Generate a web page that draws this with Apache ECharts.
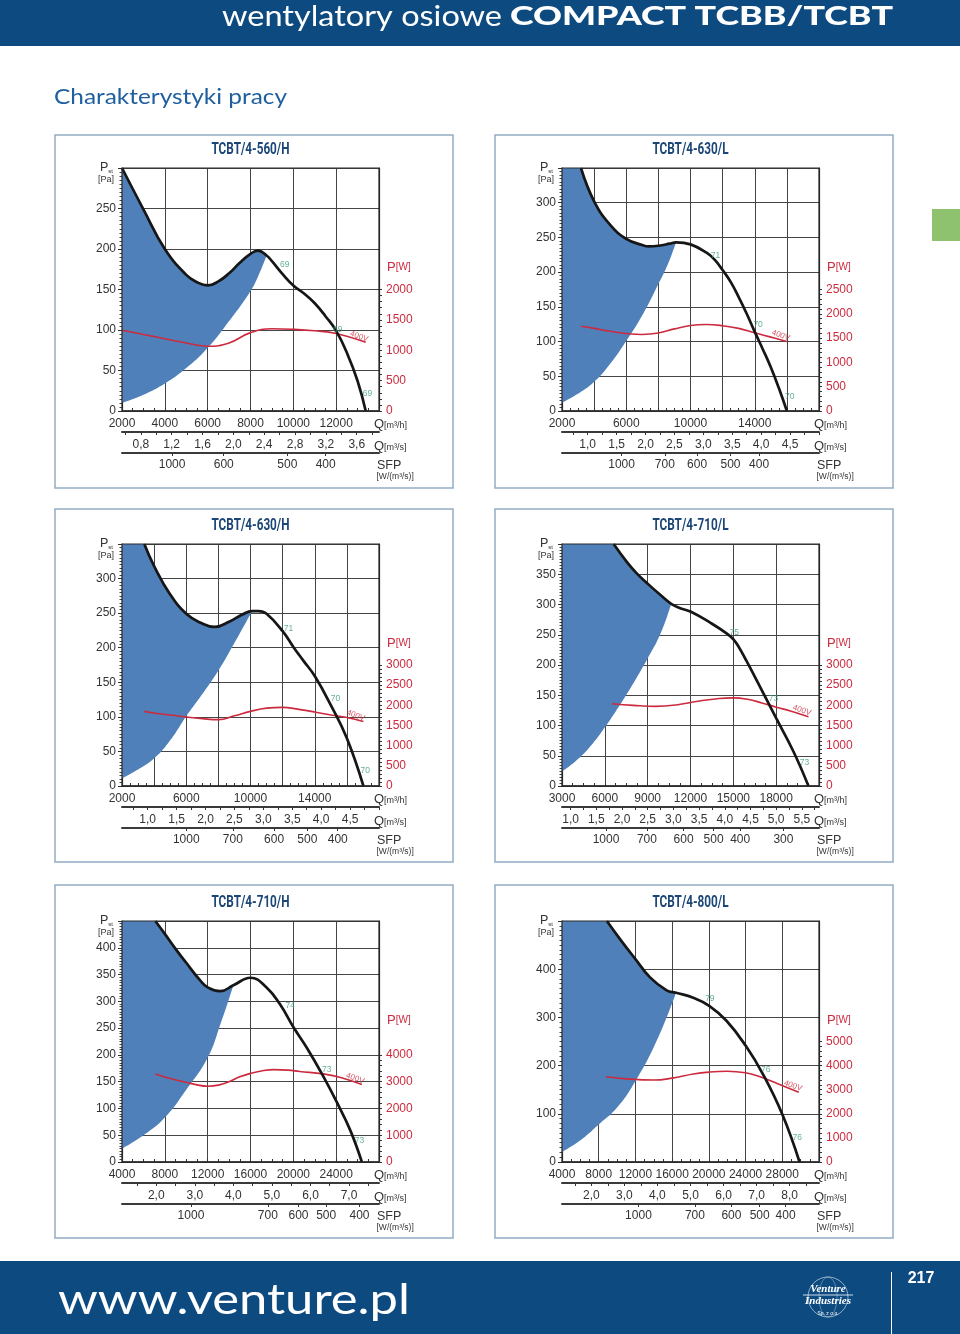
<!DOCTYPE html>
<html><head><meta charset="utf-8">
<script src="https://cdn.jsdelivr.net/npm/echarts@6/dist/echarts.min.js"></script>
<style>html,body{margin:0;padding:0;background:#fff}#c{width:960px;height:1334px}</style>
</head><body><div id="c"></div><script>
// ---------------- DATA ----------------
// Chart 1
const c1_title = 'TCBT/4-560/H';
const c1_qAxis = [2000, 14000, 2000];
const c1_paAxis = [0, 300, 50];
const c1_wMax = 4000;
const c1_qLabels = [2000, 4000, 6000, 8000, 10000, 12000];
const c1_paLabels = [0, 50, 100, 150, 200, 250];
const c1_wLabels = [0, 500, 1000, 1500, 2000];
const c1_m3sLabels = [0.8, 1.2, 1.6, 2.0, 2.4, 2.8, 3.2, 3.6];
const c1_sfpQ = [4340, 6750, 9720, 11510];
const c1_sfpLabels = [1000, 600, 500, 400];
const c1_curveQ = [2000, 3000, 4000, 5000, 5500, 6000, 6500, 7000, 7500, 8000, 8350, 8750, 9000, 9500, 10000, 10500, 11000, 11500, 12000, 12500, 13000, 13380];
const c1_curvePa = [300, 249, 200, 168, 159, 155, 160, 170, 183, 194, 198, 192, 185, 169, 155, 145, 133, 117, 99, 72, 37, 0];
const c1_stallQ = [2000, 3000, 4000, 5000, 6000, 7000, 8000, 8400, 8750];
const c1_stallPa = [10, 20, 34, 53, 78, 111, 148, 169, 192];
const c1_powerQ = [2000, 3000, 4000, 5000, 6000, 7000, 8000, 9000, 10000, 11000, 12000, 13380];
const c1_powerW = [1330, 1260, 1190, 1120, 1065, 1120, 1290, 1355, 1345, 1320, 1275, 1130];
const c1_noiseQ = [9600, 12070, 13460];
const c1_noisePa = [181, 101, 21];
const c1_noiseDb = [69, 69, 69];
const c1_voltage = [13070, 92];

// Chart 2
const c2_title = 'TCBT/4-630/L';
const c2_qAxis = [2000, 18000, 2000];
const c2_paAxis = [0, 350, 50];
const c2_wMax = 5000;
const c2_qLabels = [2000, 6000, 10000, 14000];
const c2_paLabels = [0, 50, 100, 150, 200, 250, 300];
const c2_wLabels = [0, 500, 1000, 1500, 2000, 2500];
const c2_m3sLabels = [1.0, 1.5, 2.0, 2.5, 3.0, 3.5, 4.0, 4.5];
const c2_sfpQ = [5710, 8400, 10410, 12490, 14270];
const c2_sfpLabels = [1000, 700, 600, 500, 400];
const c2_curveQ = [3180, 4000, 5000, 6000, 7000, 7400, 8000, 8700, 9100, 10000, 11000, 11500, 12000, 12500, 13000, 13500, 14000, 14500, 15000, 15500, 16000];
const c2_curvePa = [350, 302, 268, 248, 239, 237, 238, 241, 243, 240, 228, 218, 203, 186, 164, 140, 114, 89, 63, 33, 0];
const c2_stallQ = [2000, 3000, 4000, 5000, 6000, 7000, 8000, 8600, 9100];
const c2_stallPa = [12, 25, 42, 68, 101, 138, 183, 212, 243];
const c2_powerQ = [3180, 4000, 5000, 6000, 7000, 8000, 9000, 10000, 11000, 12000, 13000, 14000, 15000, 16000];
const c2_powerW = [1745, 1700, 1640, 1595, 1575, 1605, 1690, 1760, 1780, 1755, 1700, 1610, 1520, 1430];
const c2_noiseQ = [11550, 14210, 16180];
const c2_noisePa = [224, 125, 20];
const c2_noiseDb = [71, 70, 70];
const c2_voltage = [15620, 109];

// Chart 3
const c3_title = 'TCBT/4-630/H';
const c3_qAxis = [2000, 18000, 2000];
const c3_paAxis = [0, 350, 50];
const c3_wMax = 6000;
const c3_qLabels = [2000, 6000, 10000, 14000];
const c3_paLabels = [0, 50, 100, 150, 200, 250, 300];
const c3_wLabels = [0, 500, 1000, 1500, 2000, 2500, 3000];
const c3_m3sLabels = [1.0, 1.5, 2.0, 2.5, 3.0, 3.5, 4.0, 4.5];
const c3_sfpQ = [6000, 8900, 11470, 13540, 15430];
const c3_sfpLabels = [1000, 700, 600, 500, 400];
const c3_curveQ = [3390, 4000, 5000, 6000, 6900, 7760, 8700, 9500, 10100, 10500, 11000, 12000, 12700, 13300, 14000, 15000, 16000, 17030];
const c3_curvePa = [350, 318, 277, 249, 236, 230, 238, 248, 253, 253, 249, 224, 200, 181, 159, 117, 69, 0];
const c3_stallQ = [2000, 3000, 4000, 5000, 6000, 7000, 8000, 9000, 10100];
const c3_stallPa = [11, 24, 40, 66, 101, 133, 167, 207, 253];
const c3_powerQ = [3390, 4000, 5000, 6000, 7000, 8000, 9000, 10000, 11000, 12000, 13000, 14000, 15000, 16000, 17030];
const c3_powerW = [1850, 1810, 1760, 1710, 1670, 1645, 1740, 1850, 1930, 1950, 1900, 1835, 1760, 1700, 1600];
const c3_noiseQ = [12360, 15290, 17150];
const c3_noisePa = [227, 127, 22];
const c3_noiseDb = [71, 70, 70];
const c3_voltage = [16550, 102];

// Chart 4
const c4_title = 'TCBT/4-710/L';
const c4_qAxis = [3000, 21000, 3000];
const c4_paAxis = [0, 400, 50];
const c4_wMax = 6000;
const c4_qLabels = [3000, 6000, 9000, 12000, 15000, 18000];
const c4_paLabels = [0, 50, 100, 150, 200, 250, 300, 350];
const c4_wLabels = [0, 500, 1000, 1500, 2000, 2500, 3000];
const c4_m3sLabels = [1.0, 1.5, 2.0, 2.5, 3.0, 3.5, 4.0, 4.5, 5.0, 5.5];
const c4_sfpQ = [6080, 8950, 11515, 13615, 15480, 18510];
const c4_sfpLabels = [1000, 700, 600, 500, 400, 300];
const c4_curveQ = [6620, 7550, 8250, 9020, 9880, 10650, 11280, 12030, 13380, 14550, 15020, 15400, 15800, 16410, 18000, 19210, 20260];
const c4_curvePa = [400, 370, 351, 334, 316, 301, 294, 288, 270, 252, 242, 229, 212, 185, 112, 57, 0];
const c4_stallQ = [3000, 4000, 5000, 6000, 7000, 8000, 9000, 9900, 10650];
const c4_stallPa = [24, 42, 66, 97, 132, 170, 211, 252, 301];
const c4_powerQ = [6500, 8000, 9500, 11000, 12500, 14000, 15000, 16000, 17000, 18000, 19000, 20260];
const c4_powerW = [2040, 2000, 1975, 2010, 2100, 2170, 2185, 2150, 2060, 1955, 1860, 1715];
const c4_noiseQ = [15060, 17810, 19980];
const c4_noisePa = [254, 145, 39];
const c4_noiseDb = [75, 73, 73];
const c4_voltage = [19800, 125];

// Chart 5
const c5_title = 'TCBT/4-710/H';
const c5_qAxis = [4000, 28000, 4000];
const c5_paAxis = [0, 450, 50];
const c5_wMax = 9000;
const c5_qLabels = [4000, 8000, 12000, 16000, 20000, 24000];
const c5_paLabels = [0, 50, 100, 150, 200, 250, 300, 350, 400];
const c5_wLabels = [0, 1000, 2000, 3000, 4000];
const c5_m3sLabels = [2.0, 3.0, 4.0, 5.0, 6.0, 7.0];
const c5_sfpQ = [10440, 17620, 20480, 23070, 26180];
const c5_sfpLabels = [1000, 700, 600, 500, 400];
const c5_curveQ = [7110, 8000, 9000, 10000, 11300, 12000, 13200, 14400, 16000, 17500, 18800, 20000, 21300, 22800, 24000, 25300, 26400];
const c5_curvePa = [450, 426, 398, 372, 339, 326, 319, 330, 344, 326, 293, 252, 212, 160, 114, 60, 0];
const c5_stallQ = [4000, 6000, 8000, 10000, 12000, 13200, 14400];
const c5_stallPa = [25, 50, 83, 135, 195, 258, 330];
const c5_powerQ = [7110, 8500, 10000, 11000, 12000, 13000, 14000, 15000, 16000, 17000, 18200, 19500, 20600, 22800, 24500, 26400];
const c5_powerW = [3290, 3120, 2975, 2880, 2830, 2870, 3000, 3180, 3310, 3400, 3450, 3430, 3380, 3290, 3150, 2890];
const c5_noiseQ = [19710, 23130, 26180];
const c5_noisePa = [292, 173, 39];
const c5_noiseDb = [74, 73, 73];
const c5_voltage = [25770, 156];

// Chart 6
const c6_title = 'TCBT/4-800/L';
const c6_qAxis = [4000, 32000, 4000];
const c6_paAxis = [0, 500, 100];
const c6_wMax = 10000;
const c6_qLabels = [4000, 8000, 12000, 16000, 20000, 24000, 28000];
const c6_paLabels = [0, 100, 200, 300, 400];
const c6_wLabels = [0, 1000, 2000, 3000, 4000, 5000];
const c6_m3sLabels = [2.0, 3.0, 4.0, 5.0, 6.0, 7.0, 8.0];
const c6_sfpQ = [12330, 18480, 22460, 25540, 28360];
const c6_sfpLabels = [1000, 700, 600, 500, 400];
const c6_curveQ = [8890, 10340, 12000, 13590, 15400, 16420, 18300, 20040, 21920, 24020, 25900, 28000, 29880];
const c6_curvePa = [500, 462, 421, 383, 356, 351, 341, 324, 293, 241, 182, 99, 0];
const c6_stallQ = [4000, 6000, 8000, 10000, 12000, 14300, 16420];
const c6_stallPa = [21, 45, 78, 113, 168, 251, 351];
const c6_powerQ = [8800, 11000, 14000, 16000, 18300, 20000, 22000, 24000, 25500, 27500, 29800];
const c6_powerW = [3540, 3450, 3400, 3480, 3650, 3730, 3765, 3700, 3545, 3250, 2890];
const c6_noiseQ = [20110, 26190, 29630];
const c6_noisePa = [338, 192, 51];
const c6_noiseDb = [79, 76, 76];
const c6_voltage = [29160, 158];

// ---------------- LAYOUT / STYLE ----------------
const layouts = [
  {gx: 122, gy: 168, gw: 257, gh: 243, bx: 55, by: 135},
  {gx: 562, gy: 168, gw: 257, gh: 243, bx: 495, by: 135},
  {gx: 122, gy: 544, gw: 257, gh: 242, bx: 55, by: 509},
  {gx: 562, gy: 544, gw: 257, gh: 242, bx: 495, by: 509},
  {gx: 122, gy: 921, gw: 257, gh: 241, bx: 55, by: 885},
  {gx: 562, gy: 921, gw: 257, gh: 241, bx: 495, by: 885}
];
const FF = "'Liberation Sans', Arial, sans-serif";
const TXT = '#333333';
const RED = '#cc2a3e';
const FILL = '#4f80ba';
const GREEN = '#3d9c80';
const NAVY = '#0d4a80';
const SMOOTH = 0.45;

const panels = [
  {title: c1_title, qAxis: c1_qAxis, paAxis: c1_paAxis, wMax: c1_wMax, qLabels: c1_qLabels, paLabels: c1_paLabels, wLabels: c1_wLabels, m3s: c1_m3sLabels, sfpQ: c1_sfpQ, sfp: c1_sfpLabels, curveQ: c1_curveQ, curvePa: c1_curvePa, stallQ: c1_stallQ, stallPa: c1_stallPa, powerQ: c1_powerQ, powerW: c1_powerW, noiseQ: c1_noiseQ, noisePa: c1_noisePa, noiseDb: c1_noiseDb, volt: c1_voltage},
  {title: c2_title, qAxis: c2_qAxis, paAxis: c2_paAxis, wMax: c2_wMax, qLabels: c2_qLabels, paLabels: c2_paLabels, wLabels: c2_wLabels, m3s: c2_m3sLabels, sfpQ: c2_sfpQ, sfp: c2_sfpLabels, curveQ: c2_curveQ, curvePa: c2_curvePa, stallQ: c2_stallQ, stallPa: c2_stallPa, powerQ: c2_powerQ, powerW: c2_powerW, noiseQ: c2_noiseQ, noisePa: c2_noisePa, noiseDb: c2_noiseDb, volt: c2_voltage},
  {title: c3_title, qAxis: c3_qAxis, paAxis: c3_paAxis, wMax: c3_wMax, qLabels: c3_qLabels, paLabels: c3_paLabels, wLabels: c3_wLabels, m3s: c3_m3sLabels, sfpQ: c3_sfpQ, sfp: c3_sfpLabels, curveQ: c3_curveQ, curvePa: c3_curvePa, stallQ: c3_stallQ, stallPa: c3_stallPa, powerQ: c3_powerQ, powerW: c3_powerW, noiseQ: c3_noiseQ, noisePa: c3_noisePa, noiseDb: c3_noiseDb, volt: c3_voltage},
  {title: c4_title, qAxis: c4_qAxis, paAxis: c4_paAxis, wMax: c4_wMax, qLabels: c4_qLabels, paLabels: c4_paLabels, wLabels: c4_wLabels, m3s: c4_m3sLabels, sfpQ: c4_sfpQ, sfp: c4_sfpLabels, curveQ: c4_curveQ, curvePa: c4_curvePa, stallQ: c4_stallQ, stallPa: c4_stallPa, powerQ: c4_powerQ, powerW: c4_powerW, noiseQ: c4_noiseQ, noisePa: c4_noisePa, noiseDb: c4_noiseDb, volt: c4_voltage},
  {title: c5_title, qAxis: c5_qAxis, paAxis: c5_paAxis, wMax: c5_wMax, qLabels: c5_qLabels, paLabels: c5_paLabels, wLabels: c5_wLabels, m3s: c5_m3sLabels, sfpQ: c5_sfpQ, sfp: c5_sfpLabels, curveQ: c5_curveQ, curvePa: c5_curvePa, stallQ: c5_stallQ, stallPa: c5_stallPa, powerQ: c5_powerQ, powerW: c5_powerW, noiseQ: c5_noiseQ, noisePa: c5_noisePa, noiseDb: c5_noiseDb, volt: c5_voltage},
  {title: c6_title, qAxis: c6_qAxis, paAxis: c6_paAxis, wMax: c6_wMax, qLabels: c6_qLabels, paLabels: c6_paLabels, wLabels: c6_wLabels, m3s: c6_m3sLabels, sfpQ: c6_sfpQ, sfp: c6_sfpLabels, curveQ: c6_curveQ, curvePa: c6_curvePa, stallQ: c6_stallQ, stallPa: c6_stallPa, powerQ: c6_powerQ, powerW: c6_powerW, noiseQ: c6_noiseQ, noisePa: c6_noisePa, noiseDb: c6_noiseDb, volt: c6_voltage}
];

// ---------------- HELPERS ----------------
const mctx = document.createElement('canvas').getContext('2d');
function fitScale(text, font, w) { mctx.font = font; return w / mctx.measureText(text).width; }

// ECharts-like smoothing of a pixel polyline, sampled into points (up to endIdx)
function smoothSample(pix, s, endIdx) {
  const n = pix.length;
  const out = [[pix[0][0], pix[0][1]]];
  let c0x = pix[0][0], c0y = pix[0][1];
  for (let i = 1; i <= endIdx; i++) {
    const x = pix[i][0], y = pix[i][1], px = pix[i - 1][0], py = pix[i - 1][1];
    let c1x, c1y, ncx, ncy;
    if (i === n - 1) { c1x = x; c1y = y; ncx = x; ncy = y; }
    else {
      const nx = pix[i + 1][0], ny = pix[i + 1][1];
      let vx = nx - px, vy = ny - py;
      const l0 = Math.hypot(x - px, y - py) || 1e-6, l1 = Math.hypot(nx - x, ny - y) || 1e-6;
      const r = l1 / (l0 + l1);
      ncx = x + vx * s * r; ncy = y + vy * s * r;
      ncx = Math.max(Math.min(ncx, Math.max(nx, x)), Math.min(nx, x));
      ncy = Math.max(Math.min(ncy, Math.max(ny, y)), Math.min(ny, y));
      vx = ncx - x; vy = ncy - y;
      c1x = x - vx * l0 / l1; c1y = y - vy * l0 / l1;
      c1x = Math.max(Math.min(c1x, Math.max(px, x)), Math.min(px, x));
      c1y = Math.max(Math.min(c1y, Math.max(py, y)), Math.min(py, y));
      vx = x - c1x; vy = y - c1y;
      ncx = x + vx * l1 / l0; ncy = y + vy * l1 / l0;
    }
    for (let t = 1; t <= 14; t++) {
      const u = t / 14, a = 1 - u;
      out.push([
        a * a * a * px + 3 * a * a * u * c0x + 3 * a * u * u * c1x + u * u * u * x,
        a * a * a * py + 3 * a * a * u * c0y + 3 * a * u * u * c1y + u * u * u * y
      ]);
    }
    c0x = ncx; c0y = ncy;
  }
  return out;
}

function makeFill(P) {
  return function (params, api) {
    const apexQ = P.stallQ[P.stallQ.length - 1];
    const endIdx = P.curveQ.indexOf(apexQ);
    const curvePix = P.curveQ.map((q, k) => api.coord([q, P.curvePa[k]]));
    const stallPix = P.stallQ.map((q, k) => api.coord([q, P.stallPa[k]]));
    const upper = smoothSample(curvePix, SMOOTH, endIdx);
    const lower = smoothSample(stallPix, SMOOTH, stallPix.length - 1).reverse();
    const corner = api.coord([P.qAxis[0], P.paAxis[1]]);
    return {type: 'polygon', shape: {points: [corner].concat(upper, lower)}, style: {fill: FILL}};
  };
}

function m3sTickValues(labels, qmin, qmax) {
  const st = (labels[1] - labels[0]) / 2;
  const out = [];
  for (let k = -1; k <= labels.length * 2; k++) {
    const q = (labels[0] + k * st) * 3600;
    if (q >= qmin && q <= qmax) out.push(q);
  }
  return out;
}

// ---------------- BUILD ----------------
const grid = [], xAxis = [], yAxis = [], series = [], graphic = [];
const labelBase = {color: TXT, fontSize: 12, fontFamily: FF};

panels.forEach((P, i) => {
  const L = layouts[i];
  const [qmin, qmax, qstep] = P.qAxis;
  const [pmin, pmax, pstep] = P.paAxis;
  grid.push({left: L.gx, top: L.gy, width: L.gw, height: L.gh, show: false, outerBoundsMode: 'none', containLabel: false});

  xAxis.push({
    gridIndex: i, type: 'value', min: qmin, max: qmax, interval: qstep, position: 'bottom',
    axisLine: {show: true, onZero: false, lineStyle: {color: '#222', width: 1.5}},
    axisTick: {show: true, inside: true, length: 3, lineStyle: {color: '#333'}},
    minorTick: {show: true, splitNumber: 4, length: 3, lineStyle: {color: '#333'}},
    splitLine: {show: true, lineStyle: {color: '#454545', width: 1}},
    minorSplitLine: {show: false},
    axisLabel: Object.assign({customValues: P.qLabels, margin: 7, formatter: v => String(v)}, labelBase)
  });
  xAxis.push({
    gridIndex: i, type: 'value', min: qmin, max: qmax, position: 'bottom', offset: 21,
    axisLine: {show: true, onZero: false, lineStyle: {color: '#3a3a3a', width: 2}},
    axisTick: {show: true, customValues: m3sTickValues(P.m3s, qmin, qmax), length: 3, lineStyle: {color: '#333'}},
    splitLine: {show: false}, minorTick: {show: false},
    axisLabel: Object.assign({customValues: P.m3s.map(v => v * 3600), margin: 7,
      formatter: v => (v / 3600).toFixed(1).replace('.', ',')}, labelBase)
  });
  xAxis.push({
    gridIndex: i, type: 'value', min: qmin, max: qmax, position: 'bottom', offset: 42,
    axisLine: {show: true, onZero: false, lineStyle: {color: '#3a3a3a', width: 2}},
    axisTick: {show: true, customValues: P.sfpQ, length: 3, lineStyle: {color: '#333'}},
    splitLine: {show: false}, minorTick: {show: false},
    axisLabel: Object.assign({customValues: P.sfpQ, margin: 6,
      formatter: v => {
        let best = 0;
        P.sfpQ.forEach((q, k) => { if (Math.abs(q - v) < Math.abs(P.sfpQ[best] - v)) best = k; });
        return String(P.sfp[best]);
      }}, labelBase)
  });
  yAxis.push({
    gridIndex: i, type: 'value', min: pmin, max: pmax, interval: pstep, position: 'left',
    axisLine: {show: true, lineStyle: {color: '#222', width: 1.2}},
    axisTick: {show: true, length: 4, lineStyle: {color: '#333'}},
    minorTick: {show: true, splitNumber: 10, length: 2.5, lineStyle: {color: '#444'}},
    splitLine: {show: true, lineStyle: {color: '#454545', width: 1}},
    axisLabel: Object.assign({customValues: P.paLabels, margin: 6, formatter: v => String(v)}, labelBase)
  });
  const wStep = P.wLabels[1] - P.wLabels[0];
  const wTicks = [];
  for (let v = 0; v <= P.wLabels[P.wLabels.length - 1] + 1e-6; v += wStep / 5) wTicks.push(v);
  yAxis.push({
    gridIndex: i, type: 'value', min: 0, max: P.wMax, position: 'right',
    axisLine: {show: true, lineStyle: {color: '#222', width: 1.2}},
    axisTick: {show: true, customValues: wTicks, length: 3, lineStyle: {color: '#333'}},
    splitLine: {show: false}, minorTick: {show: false},
    axisLabel: {customValues: P.wLabels, margin: 7, color: RED, fontSize: 12, fontFamily: FF, formatter: v => String(v)}
  });

  series.push({type: 'custom', xAxisIndex: 3 * i, yAxisIndex: 2 * i, clip: true, silent: true, z: 1,
    data: [[qmin, 0]], renderItem: makeFill(P)});
  series.push({type: 'line', xAxisIndex: 3 * i, yAxisIndex: 2 * i, silent: true, z: 4, clip: true,
    data: P.curveQ.map((q, k) => [q, P.curvePa[k]]), smooth: SMOOTH, symbol: 'none',
    lineStyle: {color: '#161616', width: 2.7}});
  series.push({type: 'line', xAxisIndex: 3 * i, yAxisIndex: 2 * i + 1, silent: true, z: 3,
    data: P.powerQ.map((q, k) => [q, P.powerW[k]]), smooth: SMOOTH, symbol: 'none',
    lineStyle: {color: RED, width: 1.6}});
  series.push({type: 'scatter', xAxisIndex: 3 * i, yAxisIndex: 2 * i, silent: true, z: 5,
    data: P.noiseQ.map((q, k) => [q, P.noisePa[k], P.noiseDb[k]]), symbolSize: 1,
    itemStyle: {color: 'rgba(0,0,0,0)'},
    label: {show: true, position: 'inside', formatter: p => String(p.value[2]), color: GREEN, fontSize: 8.5, fontFamily: FF}});
  series.push({type: 'scatter', xAxisIndex: 3 * i, yAxisIndex: 2 * i, silent: true, z: 5,
    data: [[P.volt[0], P.volt[1]]], symbolSize: 1, itemStyle: {color: 'rgba(0,0,0,0)'},
    label: {show: true, position: 'inside', formatter: '400V', rotate: -20, color: RED, fontSize: 8, fontFamily: FF}});

  const gR = L.gx + L.gw, gB = L.gy + L.gh;
  graphic.push({type: 'rect', shape: {x: L.bx, y: L.by, width: 398, height: 353}, style: {fill: 'none', stroke: '#93adc4', lineWidth: 1.5}, z: 0, silent: true});
  graphic.push({type: 'rect', shape: {x: L.gx, y: L.gy, width: L.gw, height: L.gh}, style: {fill: 'none', stroke: '#2a2a2a', lineWidth: 1.2}, z: 100, silent: true});
  const TF = 'bold 16px Roboto';
  graphic.push({type: 'text', x: L.gx + L.gw / 2, y: L.gy - 18, scaleX: fitScale('TCBT/4-560/H', TF, 78), silent: true, z: 100,
    style: {text: P.title, font: TF, fill: '#1b4677', align: 'center', verticalAlign: 'middle'}});
  graphic.push({type: 'text', x: L.gx - 22, y: L.gy, silent: true, z: 100,
    style: {text: '{a|P}{b|st}', align: 'left', verticalAlign: 'middle',
      rich: {a: {fontSize: 12.5, fontFamily: FF, fill: TXT}, b: {fontSize: 6, fontFamily: FF, fill: TXT, verticalAlign: 'bottom', padding: [4, 0, 0, 0]}}}});
  graphic.push({type: 'text', x: L.gx - 16, y: L.gy + 12, silent: true, z: 100,
    style: {text: '[Pa]', font: '9px ' + FF, fill: TXT, align: 'center', verticalAlign: 'middle'}});
  graphic.push({type: 'text', x: gR + 8, y: L.gy + 99, silent: true, z: 100,
    style: {text: '{a|P}{b|[W]}', align: 'left', verticalAlign: 'middle',
      rich: {a: {fontSize: 13, fontFamily: FF, fill: RED}, b: {fontSize: 10, fontFamily: FF, fill: RED}}}});
  [['[m³/h]', 13], ['[m³/s]', 35]].forEach(([u, dy]) => {
    graphic.push({type: 'text', x: gR - 5, y: gB + dy, silent: true, z: 100,
      style: {text: '{a|Q}{b|' + u + '}', align: 'left', verticalAlign: 'middle',
        rich: {a: {fontSize: 13, fontFamily: FF, fill: TXT}, b: {fontSize: 9, fontFamily: FF, fill: TXT, padding: [3, 0, 0, 0]}}}});
  });
  graphic.push({type: 'text', x: gR - 2, y: gB + 55, silent: true, z: 100,
    style: {text: 'SFP', font: '12.5px ' + FF, fill: TXT, align: 'left', verticalAlign: 'middle'}});
  graphic.push({type: 'text', x: gR - 2.5, y: gB + 66, silent: true, z: 100,
    style: {text: '[W/(m³/s)]', font: '8.5px ' + FF, fill: TXT, align: 'left', verticalAlign: 'middle'}});
});

// page header / footer
const F1 = '400 28px Lato', F2 = '900 26px Lato', F3 = '400 21px Lato', F4 = '400 42px Lato';
graphic.push(
  {type: 'rect', shape: {x: 0, y: 0, width: 960, height: 46}, style: {fill: NAVY}, z: 0, silent: true},
  {type: 'text', x: 222, y: 17, scaleX: fitScale('wentylatory osiowe', F1, 280), silent: true, z: 10,
    style: {text: 'wentylatory osiowe', font: F1, fill: '#ffffff', align: 'left', verticalAlign: 'middle'}},
  {type: 'text', x: 510, y: 17, scaleX: fitScale('COMPACT TCBB/TCBT', F2, 383), silent: true, z: 10,
    style: {text: 'COMPACT TCBB/TCBT', font: F2, fill: '#ffffff', align: 'left', verticalAlign: 'middle'}},
  {type: 'text', x: 54, y: 97, scaleX: fitScale('Charakterystyki pracy', F3, 233), silent: true, z: 10,
    style: {text: 'Charakterystyki pracy', font: F3, fill: '#1f5fa0', align: 'left', verticalAlign: 'middle'}},
  {type: 'rect', shape: {x: 932, y: 209, width: 28, height: 32}, style: {fill: '#8ec26e'}, z: 0, silent: true},
  {type: 'rect', shape: {x: 0, y: 1261, width: 960, height: 73}, style: {fill: NAVY}, z: 0, silent: true},
  {type: 'text', x: 58, y: 1300, scaleX: fitScale('www.venture.pl', F4, 352), silent: true, z: 10,
    style: {text: 'www.venture.pl', font: F4, fill: '#ffffff', align: 'left', verticalAlign: 'middle'}},
  {type: 'line', shape: {x1: 891.5, y1: 1272, x2: 891.5, y2: 1334}, style: {stroke: '#ffffff', lineWidth: 1}, z: 10, silent: true},
  {type: 'text', x: 921, y: 1279, silent: true, z: 10,
    style: {text: '217', font: 'bold 16px ' + FF, fill: '#ffffff', align: 'center', verticalAlign: 'middle'}},
  {type: 'circle', shape: {cx: 828, cy: 1297, r: 20}, style: {fill: 'none', stroke: 'rgba(255,255,255,0.55)', lineWidth: 1}, z: 10, silent: true},
  {type: 'ellipse', shape: {cx: 828, cy: 1297, rx: 9, ry: 20}, style: {fill: 'none', stroke: 'rgba(255,255,255,0.4)', lineWidth: 0.8}, z: 10, silent: true},
  {type: 'text', x: 828, y: 1289, silent: true, z: 11,
    style: {text: 'Venture', font: 'italic bold 11px "Liberation Serif", serif', fill: '#ffffff', align: 'center', verticalAlign: 'middle'}},
  {type: 'line', shape: {x1: 803, y1: 1295, x2: 853, y2: 1295}, style: {stroke: '#ffffff', lineWidth: 0.8}, z: 11, silent: true},
  {type: 'text', x: 828, y: 1301, silent: true, z: 11,
    style: {text: 'Industries', font: 'italic bold 11px "Liberation Serif", serif', fill: '#ffffff', align: 'center', verticalAlign: 'middle'}},
  {type: 'text', x: 828, y: 1314, silent: true, z: 11,
    style: {text: 'Sp. z o.o.', font: '5px ' + FF, fill: '#ffffff', align: 'center', verticalAlign: 'middle'}}
);

const chart = echarts.init(document.getElementById('c'), null, {renderer: 'canvas', width: 960, height: 1334});
chart.setOption({
  animation: false,
  backgroundColor: '#ffffff',
  grid: grid, xAxis: xAxis, yAxis: yAxis, series: series,
  graphic: {elements: graphic}
});
</script></body></html>
